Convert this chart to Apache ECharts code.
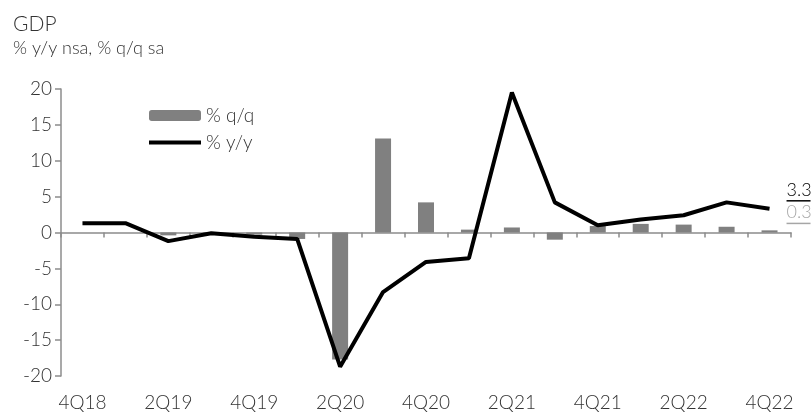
<!DOCTYPE html>
<html>
<head>
<meta charset="utf-8">
<script src="https://cdn.jsdelivr.net/npm/echarts@6/dist/echarts.min.js"></script>
<style>
  html, body { margin: 0; padding: 0; background: #fff; }
  #chart { width: 812px; height: 414px; }
</style>
</head>
<body>
<div id="chart"></div>
<script>
// quarters 4Q18 .. 4Q22
var quarters = ["4Q18", "1Q19", "2Q19", "3Q19", "4Q19", "1Q20", "2Q20", "3Q20", "4Q20",
  "1Q21", "2Q21", "3Q21", "4Q21", "1Q22", "2Q22", "3Q22", "4Q22"];
// % q/q sa (bars)
var qoq = [0.0, 0.0, -0.4, -0.2, -0.3, -0.9, -17.7, 13.1, 4.2, 0.4, 0.7, -1.0, 0.9, 1.2, 1.1, 0.8, 0.3];
// % y/y nsa (line)
var yoy = [1.3, 1.3, -1.2, -0.1, -0.6, -0.9, -18.7, -8.3, -4.1, -3.6, 19.5, 4.2, 1.0, 1.8, 2.4, 4.2, 3.3];

var FONT = "Lato";
var TXT = "#333";

var chart = echarts.init(document.getElementById("chart"));

var barData = qoq.map(function (v, i) {
  if (i < qoq.length - 1) return v;
  return {
    value: v,
    label: {
      show: true,
      position: "right",
      distance: 9,
      offset: [0, -18],
      formatter: "{t|{c}}\n{u|}",
      rich: {
        t: { fontFamily: FONT, fontWeight: 300, fontSize: 18, color: "#a6a6a6", lineHeight: 20 },
        u: { width: 24, height: 1.5, backgroundColor: "#a6a6a6" }
      }
    }
  };
});

chart.setOption({
  animation: false,
  textStyle: { fontFamily: FONT, fontWeight: 300, color: TXT },
  title: [
    { text: "GDP", left: 8, top: 9, textStyle: { fontFamily: FONT, fontWeight: 300, fontSize: 21, color: TXT } },
    { text: "% y/y nsa, % q/q sa", left: 8, top: 34, textStyle: { fontFamily: FONT, fontWeight: 300, fontSize: 18, color: TXT } }
  ],
  legend: {
    orient: "vertical",
    left: 142,
    top: 101,
    itemWidth: 52,
    itemHeight: 11,
    itemGap: 8,
    textStyle: { fontFamily: FONT, fontWeight: 300, fontSize: 19, color: TXT },
    data: [
      "% q/q",
      { name: "% y/y", itemStyle: { opacity: 0 }, lineStyle: { width: 4 } }
    ]
  },
  grid: { left: 61, right: 21, top: 89, bottom: 38 },
  xAxis: [
    {
      type: "category",
      data: quarters,
      axisLine: { onZero: true, lineStyle: { color: "#8c8c8c", width: 1.5 } },
      axisTick: { show: true, interval: 0, length: 5, lineStyle: { color: "#8c8c8c", width: 1.5 } },
      axisLabel: { show: false }
    },
    {
      type: "category",
      data: quarters,
      position: "bottom",
      axisLine: { show: false, onZero: false },
      axisTick: { show: false },
      axisLabel: { interval: 1, margin: 17, fontFamily: FONT, fontWeight: 300, fontSize: 19, color: TXT }
    }
  ],
  yAxis: {
    type: "value",
    min: -20,
    max: 20,
    interval: 5,
    axisLine: { show: true, lineStyle: { color: "#8c8c8c", width: 1.5 } },
    axisTick: { show: true, length: 6, lineStyle: { color: "#8c8c8c", width: 1.5 } },
    axisLabel: { margin: 9, fontFamily: FONT, fontWeight: 300, fontSize: 19, color: TXT },
    splitLine: { show: false }
  },
  series: [
    {
      name: "% q/q",
      type: "bar",
      xAxisIndex: 0,
      barWidth: 16,
      itemStyle: { color: "#808080" },
      data: barData
    },
    {
      name: "% y/y",
      type: "line",
      xAxisIndex: 0,
      symbol: "none",
      lineStyle: { color: "#000", width: 4 },
      itemStyle: { color: "#000" },
      endLabel: {
        show: true,
        distance: 17,
        offset: [0, -18],
        formatter: function (p) { return "{t|" + p.value + "}\n{u|}"; },
        rich: {
          t: { fontFamily: FONT, fontWeight: 300, fontSize: 18, color: "#000", lineHeight: 20 },
          u: { width: 24, height: 1.5, backgroundColor: "#000" }
        }
      },
      data: yoy
    }
  ]
});
</script>
</body>
</html>
